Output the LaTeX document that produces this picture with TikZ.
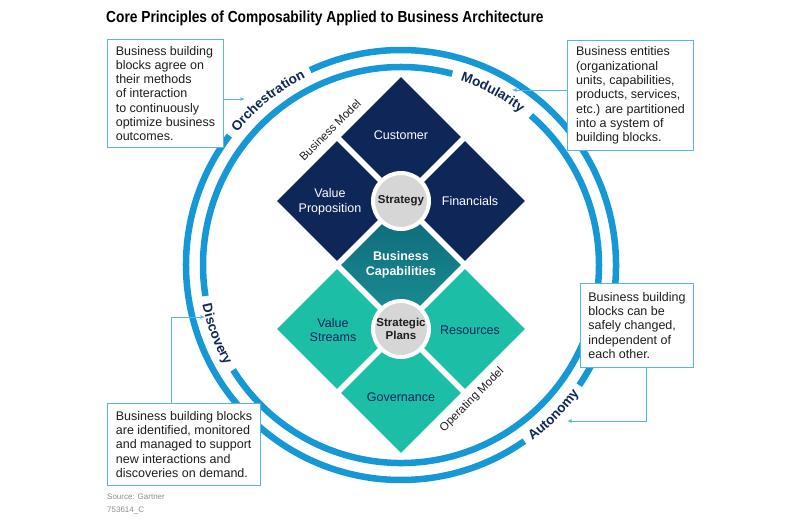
\documentclass[tikz,border=0pt]{standalone}
\usepackage{fontspec}
\setmainfont{Liberation Sans}
\newfontfamily\titlefont[FakeStretch=0.86]{Liberation Sans}
\usepackage{tikz}
\usetikzlibrary{arrows.meta, shapes.geometric, decorations.text, calc}

\definecolor{ringblue}{RGB}{22,152,214}
\definecolor{boxblue}{RGB}{86,182,228}
\definecolor{navy}{RGB}{14,38,88}
\definecolor{darkteal}{RGB}{14,104,120}
\definecolor{midteal}{RGB}{26,144,148}
\definecolor{lightteal}{RGB}{28,190,166}
\definecolor{hubgray}{RGB}{214,214,214}
\definecolor{inktext}{RGB}{30,30,30}
\definecolor{srcgray}{RGB}{140,140,140}

\newcommand{\ringfont}{\bfseries\fontsize{13.5}{13.5}\selectfont}

\begin{document}
\begin{tikzpicture}[x=1pt, y=1pt,
    ring/.style={draw=ringblue, line width=6.5pt},
    tile/.style={diamond, minimum width=120pt, minimum height=120pt, inner sep=0pt},
    tiletext/.style={align=center, font=\fontsize{12.5}{14.5}\selectfont},
    hub/.style={circle, fill=hubgray, draw=white, line width=4pt, minimum size=56pt, inner sep=0pt, align=center, text=inktext, font=\bfseries\fontsize{11.5}{13}\selectfont},
    infobox/.style={draw=boxblue, line width=1pt, fill=white, align=left, inner xsep=7pt, anchor=north west, text=inktext, font=\fontsize{12.5}{14.3}\selectfont},
    conn/.style={draw=boxblue, line width=0.9pt, -{Latex[length=4.5pt,width=4pt]}},
    ringlabel/.style={decorate, decoration={text along path, text align=center, text color=navy, text={|\ringfont|#1}}},
    modellabel/.style={rotate=45, font=\fontsize{11.5}{11.5}\selectfont, text=inktext}]

            \useasboundingbox (0,0) rectangle (800,528);

            % Title
            \node[anchor=west, inner xsep=0pt, font=\titlefont\bfseries\fontsize{16}{16}\selectfont] (title) at (106,510) {Core Principles of Composability Applied to Business Architecture};

            % Outer and inner rings
            \coordinate (C) at (401,263);
            \draw[ring] (C) ++(-34:215pt) arc[start angle=-34, end angle=115, radius=215pt];
            \draw[ring] (C) ++(143:215pt) arc[start angle=143, end angle=305, radius=215pt];
            \draw[ring] (C) ++(75:198pt) arc[start angle=75, end angle=189, radius=198pt];
            \draw[ring] (C) ++(212:198pt) arc[start angle=212, end angle=409, radius=198pt];

            % Ring labels
            \path[ringlabel=Orchestration] (C) ++(150:210.5pt) arc[start angle=150, end angle=108, radius=210.5pt];
            \path[ringlabel=Modularity] (C) ++(82:193.5pt) arc[start angle=82, end angle=42, radius=193.5pt];
            \path[ringlabel=Discovery] (C) ++(180:202.5pt) arc[start angle=180, end angle=221, radius=202.5pt];
            \path[ringlabel=Autonomy] (C) ++(-65:219.5pt) arc[start angle=-65, end angle=-24, radius=219.5pt];

            % Business model tiles
            \node[tile, fill=navy] (customer) at (401,391) {};
            \node[tile, fill=navy] (valueProp) at (337,327) {};
            \node[tile, fill=navy] (financials) at (465,327) {};

            % Business capabilities tile
            \node[tile, top color=darkteal, bottom color=midteal] (capabilities) at (401,263) {};

            % Operating model tiles
            \node[tile, fill=lightteal] (streams) at (337,199) {};
            \node[tile, fill=lightteal] (resources) at (465,199) {};
            \node[tile, fill=lightteal] (governance) at (401,135) {};

            % Tile texts
            \node[tiletext, text=white] (customerText) at (401,393) {Customer};
            \node[tiletext, text=white] (valuePropText) at (330,326) {Value\\Proposition};
            \node[tiletext, text=white] (financialsText) at (470,327) {Financials};
            \node[tiletext, text=white, font=\bfseries\fontsize{12.5}{14.5}\selectfont] (capabilitiesText) at (401,263) {Business\\Capabilities};
            \node[tiletext, text=navy] (streamsText) at (333,198) {Value\\Streams};
            \node[tiletext, text=navy] (resourcesText) at (470,198) {Resources};
            \node[tiletext, text=navy] (governanceText) at (401,131) {Governance};

            % Hubs
            \node[hub] (strategy) at (401,327) {Strategy};
            \node[hub] (plans) at (401,199) {Strategic\\Plans};

            % Model labels
            \node[modellabel] (bizModel) at (330,398) {Business Model};
            \node[modellabel] (opModel) at (472,128) {Operating Model};

            % Boxes
            \node[infobox, minimum width=116pt, minimum height=108pt] (orchBox) at (107,489) {Business building\\blocks agree on\\their methods\\of interaction\\to continuously\\optimize business\\outcomes.};
            \node[infobox, minimum width=126pt, minimum height=110pt] (modBox) at (567,488) {Business entities\\(organizational\\units, capabilities,\\products, services,\\etc.) are partitioned\\into a system of\\building blocks.};
            \node[infobox, minimum width=113pt, minimum height=84pt] (autoBox) at (580,245) {Business building\\blocks can be\\safely changed,\\independent of\\each other.};
            \node[infobox, minimum width=153pt, minimum height=82pt] (discBox) at (107,125) {Business building blocks\\are identified, monitored\\and managed to support\\new interactions and\\discoveries on demand.};

            % Connectors
            \coordinate (orchTip) at (245,429);
            \draw[conn] (orchBox.east |- orchTip) -- (orchTip);

            \coordinate (modTip) at (512,438);
            \draw[conn] (modBox.west |- modTip) -- (modTip);

            \coordinate (autoBend) at (646,107);
            \coordinate (autoTip) at (567,107);
            \draw[conn] (autoBend |- autoBox.south) -- (autoBend) -- (autoTip);

            \coordinate (discBend) at (171,211);
            \coordinate (discTip) at (205,211);
            \draw[conn] (discBend |- discBox.north) -- (discBend) -- (discTip);

            % Source
            \node[anchor=west, inner xsep=0pt, text=srcgray, font=\fontsize{8}{8}\selectfont] (source) at (107,31) {Source: Gartner};
            \node[anchor=west, inner xsep=0pt, text=srcgray, font=\fontsize{8}{8}\selectfont] (docId) at (107,18) {753614\_C};

\end{tikzpicture}
\end{document}
